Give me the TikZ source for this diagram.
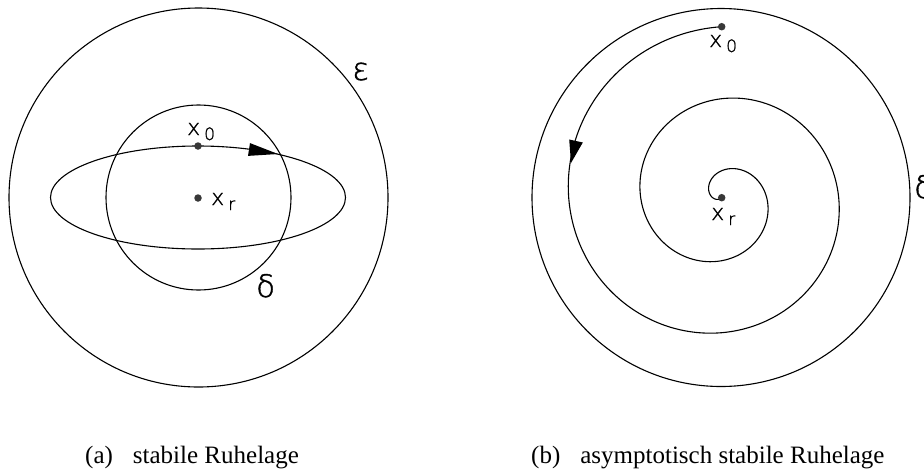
\documentclass[tikz,border=0pt]{standalone}
\usepackage{fontspec}
\setmainfont{Liberation Serif}
\newfontfamily\lab[FakeBold=1.2]{DejaVu Sans ExtraLight}
\newcommand\xsub[1]{{\fontsize{22}{22}\selectfont x}\hspace{4pt}\raisebox{-5pt}{\fontsize{17}{17}\selectfont #1}}
\begin{document}
\begin{tikzpicture}[x=1pt,y=-1pt,
  curve/.style={line width=1.1pt},
  dot/.style={circle, fill=black!78, inner sep=0pt, minimum size=7.5pt},
  lbl/.style={font=\lab, inner sep=0pt, anchor=base west},
  greek/.style={font=\lab\fontsize{31}{31}\selectfont, inner sep=0pt, anchor=base west},
  captext/.style={font=\fontsize{25}{27}\selectfont, inner sep=0pt, anchor=base west}]
\useasboundingbox (0,0) rectangle (924,472);
% ---------- (a) ----------
\draw[curve] (198.5,197.5) circle [radius=189.5];
\draw[curve] (198.5,197.5) circle [radius=92.5];
\draw[curve] (198,197.5) ellipse [x radius=147.5, y radius=51.5];
\fill (278,154) -- (248,155.9) -- (250,143.1) -- cycle;
\node[dot] (x0a) at (198,146) {};
\node[dot] (xra) at (198,198) {};
\node[lbl] (lx0a) at (187,135) {\xsub{0}};
\node[lbl] (lxra) at (211,205) {\xsub{r}};
\node[greek] (eps) at (352,80) {ε};
\node[greek] (dela) at (256,297) {δ};
\node[captext] (capa) at (85,463) {(a)\hspace{0.8em}stabile Ruhelage};
% ---------- (b) ----------
\draw[curve] (721,197.5) circle [radius=189];
\draw[curve] plot[domain=90:945, samples=400, smooth]
  ({721.7+0.2*(945-\x)*cos(\x)}, {197.7-0.2*(945-\x)*sin(\x)});
\fill (571,163) -- (582.8,142.5) -- (569.2,139.5) -- cycle;
\node[dot] (x0b) at (721.7,26.7) {};
\node[dot] (xrb) at (721.7,197.7) {};
\node[lbl] (lx0b) at (709,47) {\xsub{0}};
\node[lbl] (lxrb) at (711,220) {\xsub{r}};
\node[greek] (delb) at (914,198) {δ};
\node[captext] (capb) at (531,463) {(b)\hspace{0.8em}asymptotisch stabile Ruhelage};
\end{tikzpicture}
\end{document}
